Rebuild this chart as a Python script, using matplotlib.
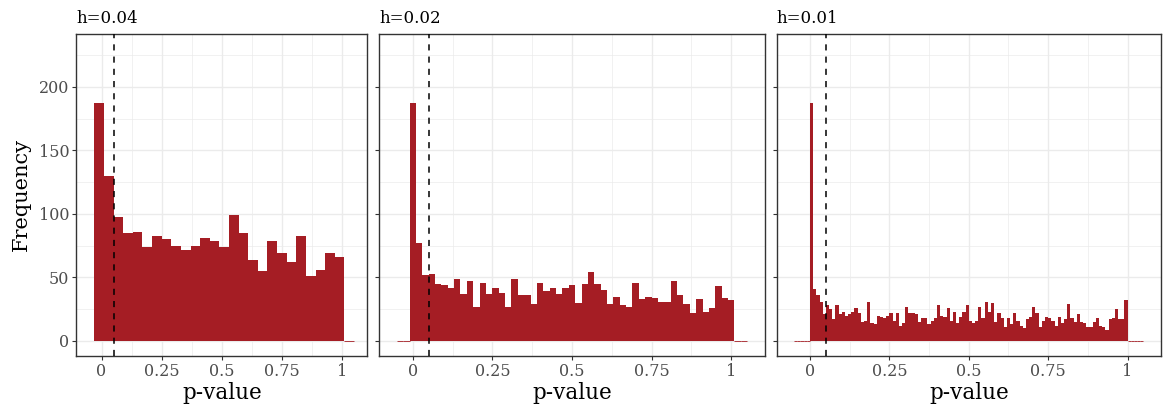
import numpy as np
import matplotlib
matplotlib.use("Agg")
import matplotlib.pyplot as plt

plt.rcParams['font.family'] = ['DejaVu Serif']

bar_col = '#a51d24'
grid_col = '#ebebeb'
frame_col = '#333333'

# bin widths and the left edge of the first drawn bin (incl. empty padding bins)
titles = ['h=0.04', 'h=0.02', 'h=0.01']
widths = [0.04, 0.02, 0.01]
starts = [-0.03, -0.05, -0.05]

counts_h04 = [187, 130, 98, 85, 86, 74, 83, 80, 75, 72, 75, 81, 79, 74, 99, 85,
              64, 55, 79, 69, 62, 83, 51, 56, 69, 66, 0]

counts_h02 = [0, 0,
              187, 77, 52, 53, 45, 44, 42, 49, 37, 47,
              27, 46, 37, 42, 38, 27, 49, 36, 36, 29,
              46, 39, 42, 37, 42, 44, 30, 45, 54, 45,
              40, 29, 35, 28, 27, 46, 33, 35, 34, 31,
              31, 47, 36, 29, 22, 33, 23, 26, 43, 34,
              32,
              0, 0]

counts_h01 = [0, 0, 0, 0, 0,
              187, 41, 36, 31, 21, 28, 25, 17, 28, 21,
              23, 20, 21, 23, 26, 22, 15, 16, 31, 14,
              13, 20, 19, 18, 20, 22, 16, 22, 12, 14,
              27, 22, 22, 21, 15, 18, 18, 13, 16, 18,
              28, 20, 19, 26, 16, 23, 14, 19, 23, 28,
              16, 14, 16, 27, 18, 31, 23, 30, 15, 22,
              18, 11, 18, 13, 22, 16, 12, 10, 17, 19,
              27, 22, 11, 16, 19, 18, 16, 12, 19, 14,
              17, 29, 18, 15, 21, 15, 14, 11, 11, 15,
              18, 12, 11, 9, 17, 18, 25, 17, 17, 32,
              0, 0, 0, 0, 0]

all_counts = [counts_h04, counts_h02, counts_h01]

alpha_level = 0.05
xticks = [0, 0.25, 0.5, 0.75, 1]
xticklabels = ['0', '0.25', '0.5', '0.75', '1']
yticks = [0, 50, 100, 150, 200]

fig = plt.figure(figsize=(11.63, 4.08), dpi=100)
boxes = [[0.0656, 0.1285, 0.2502, 0.7875],
         [0.3261, 0.1285, 0.3314, 0.7875],
         [0.6678, 0.1285, 0.3304, 0.7875]]

for i, box in enumerate(boxes):
    ax = fig.add_axes(box)
    cnt = np.array(all_counts[i])
    left = starts[i] + widths[i] * np.arange(len(cnt))
    # empty bins only show their outline, so give just those an edge
    lw = np.where(cnt == 0, 0.6, 0.0)
    ax.bar(left, cnt, width=widths[i], align='edge', color=bar_col,
           edgecolor=bar_col, linewidth=lw, zorder=2)
    ax.axvline(alpha_level, color='black', linestyle=(0, (4, 4)), linewidth=1.1, zorder=3)

    ax.set_xlim(-0.105, 1.105)
    ax.set_ylim(-11.5, 241.5)
    ax.set_xticks(xticks)
    ax.set_xticklabels(xticklabels)
    ax.set_xticks([0.125, 0.375, 0.625, 0.875], minor=True)
    ax.set_yticks(yticks)
    ax.set_yticks([25, 75, 125, 175, 225], minor=True)
    ax.grid(which='major', color=grid_col, linewidth=1.0, zorder=0)
    ax.grid(which='minor', color=grid_col, linewidth=0.5, zorder=0)
    ax.set_axisbelow(True)

    for sp in ax.spines.values():
        sp.set_color(frame_col)
        sp.set_linewidth(1.0)
    ax.tick_params(which='major', length=3, width=0.8, color=frame_col,
                   labelcolor='#4d4d4d', labelsize=11.5, pad=2)
    ax.tick_params(which='minor', length=0)

    if i == 0:
        ax.set_ylabel('Frequency', fontsize=15, labelpad=6)
    else:
        ax.set_yticklabels([])
    ax.set_xlabel('p-value', fontsize=15.5, labelpad=2)
    ax.set_title(titles[i], loc='left', fontsize=12, pad=8)

fig.savefig('out.png', dpi=100)
